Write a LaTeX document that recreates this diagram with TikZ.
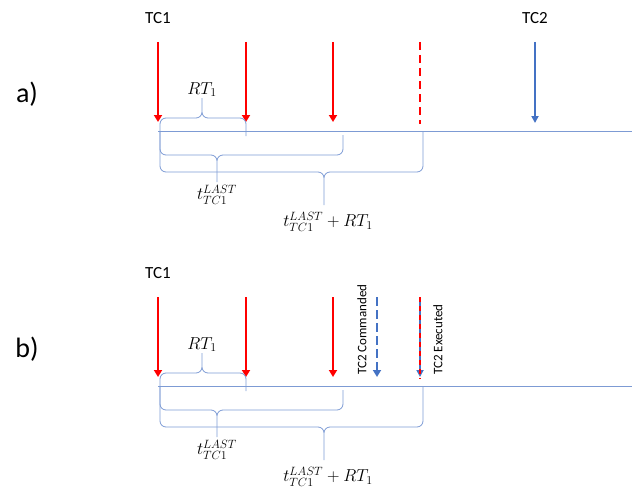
\documentclass[tikz,border=0pt]{standalone}
\usepackage{fontspec}
\setmainfont{Carlito}
\usepackage{amsmath}
\DeclareMathSizes{18}{18}{13}{10}
\usetikzlibrary{arrows.meta,positioning}
\definecolor{tcred}{RGB}{255,0,0}
\definecolor{tcblue}{RGB}{68,114,196}
\definecolor{lineblue}{RGB}{125,155,212}

\begin{document}
\begin{tikzpicture}[x=1pt,y=-1pt,
	redarrow/.style={-{Triangle[width=8pt,length=7pt]},line width=2.2pt,tcred},
	reddash/.style={tcred,line width=2.2pt,dash pattern=on 8pt off 5pt},
	bluearrow/.style={-{Triangle[width=7pt,length=7pt]},line width=1.8pt,tcblue},
	bluedash/.style={-{Triangle[width=8pt,length=7pt]},line width=2.6pt,tcblue,dash pattern=on 9pt off 4pt},
	timeline/.style={lineblue,line width=0.9pt},
	brc/.style={lineblue,line width=0.8pt,rounded corners=6pt},
	lbl/.style={font=\fontsize{17}{19}\selectfont},
	panel/.style={font=\fontsize{28}{32}\selectfont},
	mlbl/.style={font=\fontsize{18}{20}\selectfont,inner sep=1pt},
	side/.style={font=\fontsize{13}{15}\selectfont,rotate=90,anchor=west,inner sep=0pt}]
\useasboundingbox (0,0) rectangle (632,495);
\foreach \p/\dy in {a/0,b/255}{
	\begin{scope}[shift={(0,\dy)}]
	\coordinate (start\p) at (158,131);
	\coordinate (end\p) at (632,131);
	\draw[timeline] (start\p) -- (end\p);
	\foreach \i/\x in {1/158,2/246,3/333}{
		\coordinate (top\p\i) at (\x,42);
		\coordinate (tip\p\i) at (\x,122);
		\draw[redarrow] (top\p\i) -- (tip\p\i);
	}
	\node[lbl] (tcone\p) at (158,18) {TC1};
	\node[panel] (panel\p) at (27,94) {\p)};
	
	\coordinate (rtip\p) at (202,98);
	\coordinate (ltip\p) at (217,182);
	\coordinate (stip\p) at (324,205);
	\draw[brc] (160,131) |- (202,118) -- (rtip\p) (rtip\p) -- (202,118) -| (246,136);
	\draw[brc] (160,131) |- (217,155) -- (ltip\p) (ltip\p) -- (217,155) -| (343,135);
	\draw[brc] (160,131) |- (324,172) -- (stip\p) (stip\p) -- (324,172) -| (423,132);
	
	\node[mlbl,above=0pt of rtip\p] (rt\p) {$RT_1$};
	\node[mlbl,below=2pt of ltip\p] (last\p) {$t_{TC1}^{LAST}$};
	\node[mlbl,below=6pt of stip\p,xshift=4pt] (sum\p) {$t_{TC1}^{LAST}+RT_1$};
	\end{scope}
}

\coordinate (dtopa) at (420,42);
\coordinate (dbota) at (420,124);
\draw[reddash] (dtopa) -- (dbota);
\coordinate (tctop) at (535,42);
\coordinate (tcbot) at (535,123);
\draw[bluearrow] (tctop) -- (tcbot);
\node[lbl] (tctwo) at (535,18) {TC2};

\coordinate (cmdtop) at (377,297);
\coordinate (cmdbot) at (377,377);
\draw[bluedash] (cmdtop) -- (cmdbot);
\node[side] (cmd) at (362,375) {TC2 Commanded};
\coordinate (extop) at (420,297);
\coordinate (exbot) at (420,377);
\coordinate (dbotb) at (420,379);
\draw[bluearrow] (extop) -- (exbot);
\draw[tcred,line width=1.2pt,dash pattern=on 5pt off 4pt] (extop) -- (dbotb);
\node[side] (exe) at (438,375) {TC2 Executed};
\end{tikzpicture}
\end{document}
